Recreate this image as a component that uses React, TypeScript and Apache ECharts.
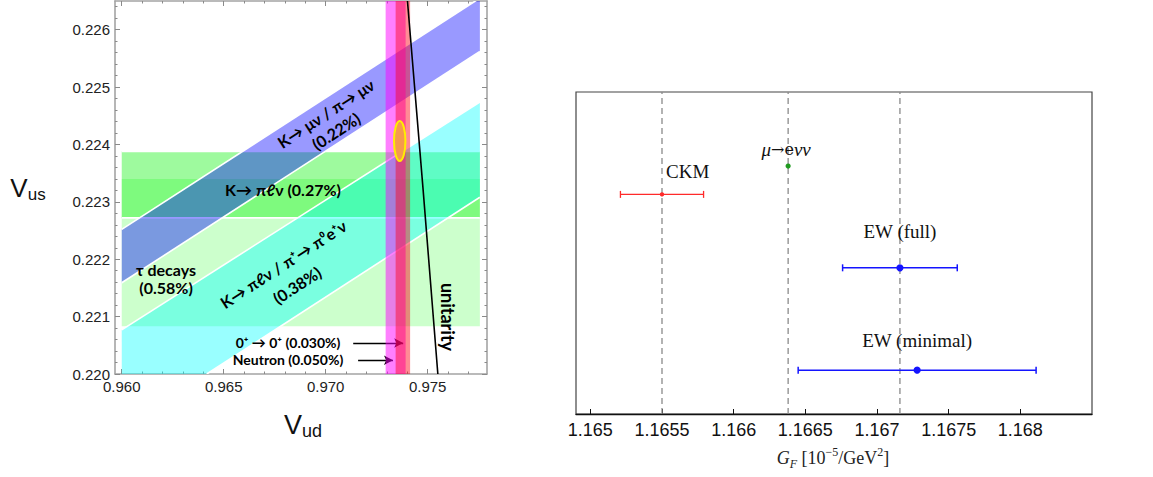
import React, { useEffect, useRef } from "react";
import * as echarts from "echarts";

// ---------------- Left panel: |Vus| vs |Vud| ----------------
const vudAxisRange = [0.95967, 0.97791];
const vusAxisRange = [0.22, 0.2265];
const vudMajorTicks = [0.96, 0.965, 0.97, 0.975];
const vusMajorTicks = [0.22, 0.221, 0.222, 0.223, 0.224, 0.225, 0.226];
const bandVudRange = [0.96, 0.97756];
const tauBand = [0.22083, 0.2234]; // τ decays (0.58%)
const kl3Band = [0.22272, 0.22388]; // K→πℓν (0.27%)
const kmu2LowerEdge = [[0.96, 0.22159], [0.97756, 0.22562]];
const kmu2UpperEdge = [[0.96, 0.22252], [0.97756, 0.22655]];
const kl3pibLowerEdge = [[0.96417, 0.22], [0.97756, 0.22308]];
const kl3pibUpperEdge = [[0.96, 0.22077], [0.97756, 0.22474]];
const neutronBand = [0.97294, 0.97392];
const superallowedBand = [0.97343, 0.97414];
const fitCenter = [0.97363, 0.22406];
const fitHalfAxes = [0.00028, 0.000348];
const unitarityCurve = [[0.9755, 0.22], [0.97478, 0.2232], [0.97401, 0.2265]];
const superallowedArrow = [[0.97135, 0.22054], [0.9738, 0.22054]];
const neutronArrow = [[0.97159, 0.22024], [0.9733, 0.22024]];

// ---------------- Right panel: G_F ----------------
const gfLabels = ["μ→eνν", "CKM", "EW (full)", "EW (minimal)"];
const gfCentral = [1.16638, 1.1655, 1.16716, 1.16728];
const gfLow = [1.16638, 1.16521, 1.16676, 1.16645];
const gfHigh = [1.16638, 1.16579, 1.16756, 1.16811];
const gfRow = [7.7, 6.82, 4.54, 1.36];
const gfRefLines = [1.1655, 1.16638, 1.16716];
const gfTicks = [1.165, 1.1655, 1.166, 1.1665, 1.167, 1.1675, 1.168];
const gfAxisRange = [1.1649, 1.1685];
const gfRowRange = [0, 10];

const gfStyles = [
  { color: "#1f9a1f", r: 2.6, lw: 1.2, dx: -2, dy: -17, align: "center" },
  { color: "#ff2a2a", r: 2.2, lw: 1.3, dx: 4, dy: -23, align: "left" },
  { color: "#1414ff", r: 3.6, lw: 1.5, dx: 0, dy: -36, align: "center" },
  { color: "#1414ff", r: 3.6, lw: 1.5, dx: 0, dy: -30, align: "center" },
];

function minorTicks(min: number, max: number, step: number, majors: number[]) {
  const out: number[] = [];
  const n = Math.round((max - min) / step);
  for (let i = 0; i <= n; i++) {
    const v = Math.round((min + i * step) * 1e6) / 1e6;
    if (!majors.some((m) => Math.abs(m - v) < step / 10)) out.push(v);
  }
  return out;
}

const vudMinor = minorTicks(0.96, 0.977, 0.001, vudMajorTicks);
const vusMinor = minorTicks(0.22, 0.2264, 0.0002, vusMajorTicks);

const FRAME = "#a4a4a4";
const SANS = "'Liberation Sans', Arial, sans-serif";
const BOLD = "Lato, 'Open Sans', sans-serif";
const SERIF = "'Liberation Serif', 'Times New Roman', serif";

function polySeries(points: number[][], edges: number[][][], fill: string, z: number) {
  return {
    type: "custom",
    xAxisIndex: 0,
    yAxisIndex: 0,
    clip: true,
    silent: true,
    z,
    data: points,
    renderItem: (params: any, api: any) => {
      if (params.dataIndex !== 0) return null;
      const pts = points.map((p) => api.coord(p));
      const children: any[] = [
        { type: "polygon", shape: { points: pts }, style: { fill, stroke: "none" } },
      ];
      edges.forEach((e) => {
        const a = api.coord(e[0]);
        const b = api.coord(e[1]);
        children.push({
          type: "line",
          shape: { x1: a[0], y1: a[1], x2: b[0], y2: b[1] },
          style: { stroke: "#ffffff", lineWidth: 1.6 },
        });
      });
      return { type: "group", children };
    },
  };
}

function rectPoints(xr: number[], yr: number[]) {
  return [
    [xr[0], yr[0]],
    [xr[1], yr[0]],
    [xr[1], yr[1]],
    [xr[0], yr[1]],
  ];
}

function hEdge(xr: number[], y: number) {
  return [
    [xr[0], y],
    [xr[1], y],
  ];
}

function leftAxis(kind: "x" | "y", position: string, values: number[], len: number, labels: boolean, line: boolean) {
  const range = kind === "x" ? vudAxisRange : vusAxisRange;
  return {
    type: "value",
    gridIndex: 0,
    position,
    min: range[0],
    max: range[1],
    splitLine: { show: false },
    axisLine: { show: line, onZero: false, lineStyle: { color: FRAME, width: 1.6 } },
    axisTick: { show: true, inside: true, length: len, customValues: values, lineStyle: { color: "#8a8a8a", width: 1 } },
    axisLabel: {
      show: labels,
      customValues: values,
      formatter: (v: number) => v.toFixed(3),
      color: "#222",
      fontFamily: SANS,
      fontSize: 15,
      margin: 5,
    },
  };
}

function boldText(text: string, x: number, y: number, deg: number, size = 14) {
  return {
    type: "text",
    x,
    y,
    rotation: (deg * Math.PI) / 180,
    silent: true,
    z: 50,
    style: {
      text,
      fill: "#000",
      font: `bold ${size}px ${BOLD}`,
      lineHeight: size + 1,
      align: "center",
      verticalAlign: "middle",
      textAlign: "center",
      textVerticalAlign: "middle",
    },
  };
}

export default function App() {
  const ref = useRef<HTMLDivElement>(null);

  useEffect(() => {
    if (!ref.current) return;
    const chart = echarts.init(ref.current, undefined, { renderer: "svg" });

    const kl3pibPoly = [
      [bandVudRange[0], vusAxisRange[0]],
      kl3pibLowerEdge[0],
      kl3pibLowerEdge[1],
      kl3pibUpperEdge[1],
      kl3pibUpperEdge[0],
    ];
    const kmu2Poly = [kmu2LowerEdge[0], kmu2LowerEdge[1], kmu2UpperEdge[1], kmu2UpperEdge[0]];

    const option: any = {
      animation: false,
      grid: [
        { left: 115, top: 1, width: 372, height: 373, show: false },
        { left: 576, top: 92, width: 516, height: 322, show: true, borderColor: "#444", borderWidth: 1.2 },
      ],
      xAxis: [
        leftAxis("x", "bottom", vudMajorTicks, 5, true, true),
        leftAxis("x", "bottom", vudMinor, 2.5, false, false),
        leftAxis("x", "top", vudMajorTicks, 5, false, true),
        leftAxis("x", "top", vudMinor, 2.5, false, false),
        {
          type: "value",
          gridIndex: 1,
          position: "bottom",
          min: gfAxisRange[0],
          max: gfAxisRange[1],
          splitLine: { show: false },
          axisLine: { show: true, onZero: false, lineStyle: { color: "#111", width: 1.3 } },
          axisTick: { show: true, inside: true, length: 5, customValues: gfTicks, lineStyle: { color: "#111", width: 1 } },
          axisLabel: {
            show: true,
            customValues: gfTicks,
            formatter: (v: number) => String(parseFloat(v.toFixed(4))),
            color: "#111",
            fontFamily: SANS,
            fontSize: 18,
            margin: 7,
          },
        },
      ],
      yAxis: [
        leftAxis("y", "left", vusMajorTicks, 5, true, true),
        leftAxis("y", "left", vusMinor, 2.5, false, false),
        leftAxis("y", "right", vusMajorTicks, 5, false, true),
        leftAxis("y", "right", vusMinor, 2.5, false, false),
        { type: "value", gridIndex: 1, min: gfRowRange[0], max: gfRowRange[1], show: false },
      ],
      series: [
        polySeries(rectPoints(bandVudRange, tauBand), [], "#ccffcc", 2),
        polySeries(
          rectPoints(bandVudRange, kl3Band),
          [hEdge(bandVudRange, kl3Band[0]), hEdge(bandVudRange, kl3Band[1])],
          "rgba(0,242,0,0.38)",
          3
        ),
        polySeries(kmu2Poly, [kmu2LowerEdge, kmu2UpperEdge], "rgba(0,0,255,0.4)", 4),
        polySeries(kl3pibPoly, [kl3pibLowerEdge, kl3pibUpperEdge], "rgba(0,255,255,0.4)", 5),
        polySeries(rectPoints(neutronBand, vusAxisRange), [], "rgba(255,0,255,0.5)", 6),
        polySeries(rectPoints(superallowedBand, vusAxisRange), [], "rgba(255,0,20,0.45)", 7),
        {
          type: "custom",
          xAxisIndex: 0,
          yAxisIndex: 0,
          silent: true,
          z: 8,
          data: [fitCenter],
          renderItem: (_p: any, api: any) => {
            const c = api.coord([api.value(0), api.value(1)]);
            const s = api.size(fitHalfAxes);
            return {
              type: "ellipse",
              shape: { cx: c[0], cy: c[1], rx: s[0], ry: s[1] },
              style: { fill: "#f59a4e", stroke: "#ffee00", lineWidth: 2 },
            };
          },
        },
        {
          type: "line",
          xAxisIndex: 0,
          yAxisIndex: 0,
          z: 9,
          silent: true,
          symbol: "none",
          clip: true,
          data: unitarityCurve,
          lineStyle: { color: "#000", width: 1.6 },
        },
        {
          type: "line",
          xAxisIndex: 0,
          yAxisIndex: 0,
          z: 9,
          silent: true,
          data: [],
          markLine: {
            silent: true,
            symbol: ["none", "arrow"],
            symbolSize: [7, 9],
            label: { show: false },
            lineStyle: { color: "#000", width: 1.3, type: "solid" },
            data: [
              [{ coord: superallowedArrow[0] }, { coord: superallowedArrow[1] }],
              [{ coord: neutronArrow[0] }, { coord: neutronArrow[1] }],
            ],
          },
        },
        // right panel: dashed reference lines
        {
          type: "custom",
          xAxisIndex: 4,
          yAxisIndex: 4,
          z: 1,
          silent: true,
          data: gfRefLines.map((x) => [x]),
          encode: { x: 0 },
          renderItem: (_p: any, api: any) => {
            const x = api.value(0);
            const a = api.coord([x, gfRowRange[0]]);
            const b = api.coord([x, gfRowRange[1]]);
            return {
              type: "line",
              shape: { x1: a[0], y1: a[1], x2: b[0], y2: b[1] },
              style: { stroke: "#8a8a8a", lineWidth: 1.3, lineDash: [6, 4] },
            };
          },
        },
        {
          type: "custom",
          xAxisIndex: 4,
          yAxisIndex: 4,
          z: 5,
          silent: true,
          data: gfCentral.map((v, i) => [v, gfLow[i], gfHigh[i], gfRow[i]]),
          encode: { x: 0, y: 3 },
          renderItem: (params: any, api: any) => {
            const i = params.dataIndex;
            const st = gfStyles[i];
            const c = api.coord([api.value(0), api.value(3)]);
            const lo = api.coord([api.value(1), api.value(3)]);
            const hi = api.coord([api.value(2), api.value(3)]);
            const children: any[] = [];
            if (hi[0] - lo[0] > 1) {
              const ls = { stroke: st.color, lineWidth: st.lw };
              children.push({ type: "line", shape: { x1: lo[0], y1: lo[1], x2: hi[0], y2: hi[1] }, style: ls });
              children.push({ type: "line", shape: { x1: lo[0], y1: lo[1] - 3.5, x2: lo[0], y2: lo[1] + 3.5 }, style: ls });
              children.push({ type: "line", shape: { x1: hi[0], y1: hi[1] - 3.5, x2: hi[0], y2: hi[1] + 3.5 }, style: ls });
            }
            children.push({ type: "circle", shape: { cx: c[0], cy: c[1], r: st.r }, style: { fill: st.color } });
            const isMu = i === 0;
            children.push({
              type: "text",
              x: c[0] + st.dx,
              y: c[1] + st.dy,
              style: isMu
                ? {
                    text: "{i|μ}{n|→e}{i|νν}",
                    rich: {
                      i: { fontFamily: SERIF, fontStyle: "italic", fontSize: 19, fill: "#111" },
                      n: { fontFamily: "'DejaVu Serif', serif", fontSize: 16, fill: "#111" },
                    },
                    align: st.align,
                    verticalAlign: "middle",
                  }
                : {
                    text: gfLabels[i],
                    fill: "#111",
                    font: `19px ${SERIF}`,
                    align: st.align,
                    verticalAlign: "middle",
                  },
            });
            return { type: "group", children };
          },
        },
      ],
      graphic: [
        boldText("K→ μν / π→ μν", 325.7, 113.3, 33, 16),
        boldText("(0.22%)", 336, 131, 33, 16),
        boldText("K→ πℓν (0.27%)", 283, 189, 0, 16),
        boldText("τ decays", 166, 269, 0, 16),
        boldText("(0.58%)", 166, 287, 0, 16),
        boldText("K→ πℓν / π⁺→ π⁰e⁺ν", 283.3, 264, 33, 16),
        boldText("(0.38%)", 297, 285, 33, 16),
        boldText("unitarity", 448, 317, -90, 18),
        boldText("0⁺ → 0⁺ (0.030%)", 288, 342, 0, 14),
        boldText("Neutron (0.050%)", 288, 359, 0, 14),
        {
          type: "text",
          x: 28,
          y: 188,
          silent: true,
          style: {
            text: "{v|V}{s|us}",
            rich: {
              v: { fontFamily: SANS, fontSize: 26, fill: "#111", lineHeight: 30 },
              s: { fontFamily: SANS, fontSize: 17, fill: "#111", verticalAlign: "bottom" },
            },
            align: "center",
            verticalAlign: "middle",
            textAlign: "center",
            textVerticalAlign: "middle",
          },
        },
        {
          type: "text",
          x: 303,
          y: 425,
          silent: true,
          style: {
            text: "{v|V}{s|ud}",
            rich: {
              v: { fontFamily: SANS, fontSize: 27, fill: "#111", lineHeight: 30 },
              s: { fontFamily: SANS, fontSize: 18, fill: "#111", verticalAlign: "bottom" },
            },
            align: "center",
            verticalAlign: "middle",
            textAlign: "center",
            textVerticalAlign: "middle",
          },
        },
        {
          type: "text",
          x: 833,
          y: 458,
          silent: true,
          style: {
            text: "{gi|G}{gs|F}{n| [10}{sp|−5}{n|/GeV}{sp|2}{n|]}",
            rich: {
              gi: { fontFamily: SERIF, fontStyle: "italic", fontSize: 18, fill: "#222", lineHeight: 24 },
              gs: { fontFamily: SERIF, fontStyle: "italic", fontSize: 12, fill: "#222", verticalAlign: "bottom" },
              n: { fontFamily: SERIF, fontSize: 18, fill: "#222", lineHeight: 24 },
              sp: { fontFamily: SERIF, fontSize: 12, fill: "#222", verticalAlign: "top" },
            },
            align: "center",
            verticalAlign: "middle",
            textAlign: "center",
            textVerticalAlign: "middle",
          },
        },
      ],
    };

    chart.setOption(option);
    return () => chart.dispose();
  }, []);

  return (
    <div
      ref={ref}
      style={{ position: "absolute", left: 0, top: 0, width: 1153, height: 477, background: "#fff" }}
    />
  );
}
